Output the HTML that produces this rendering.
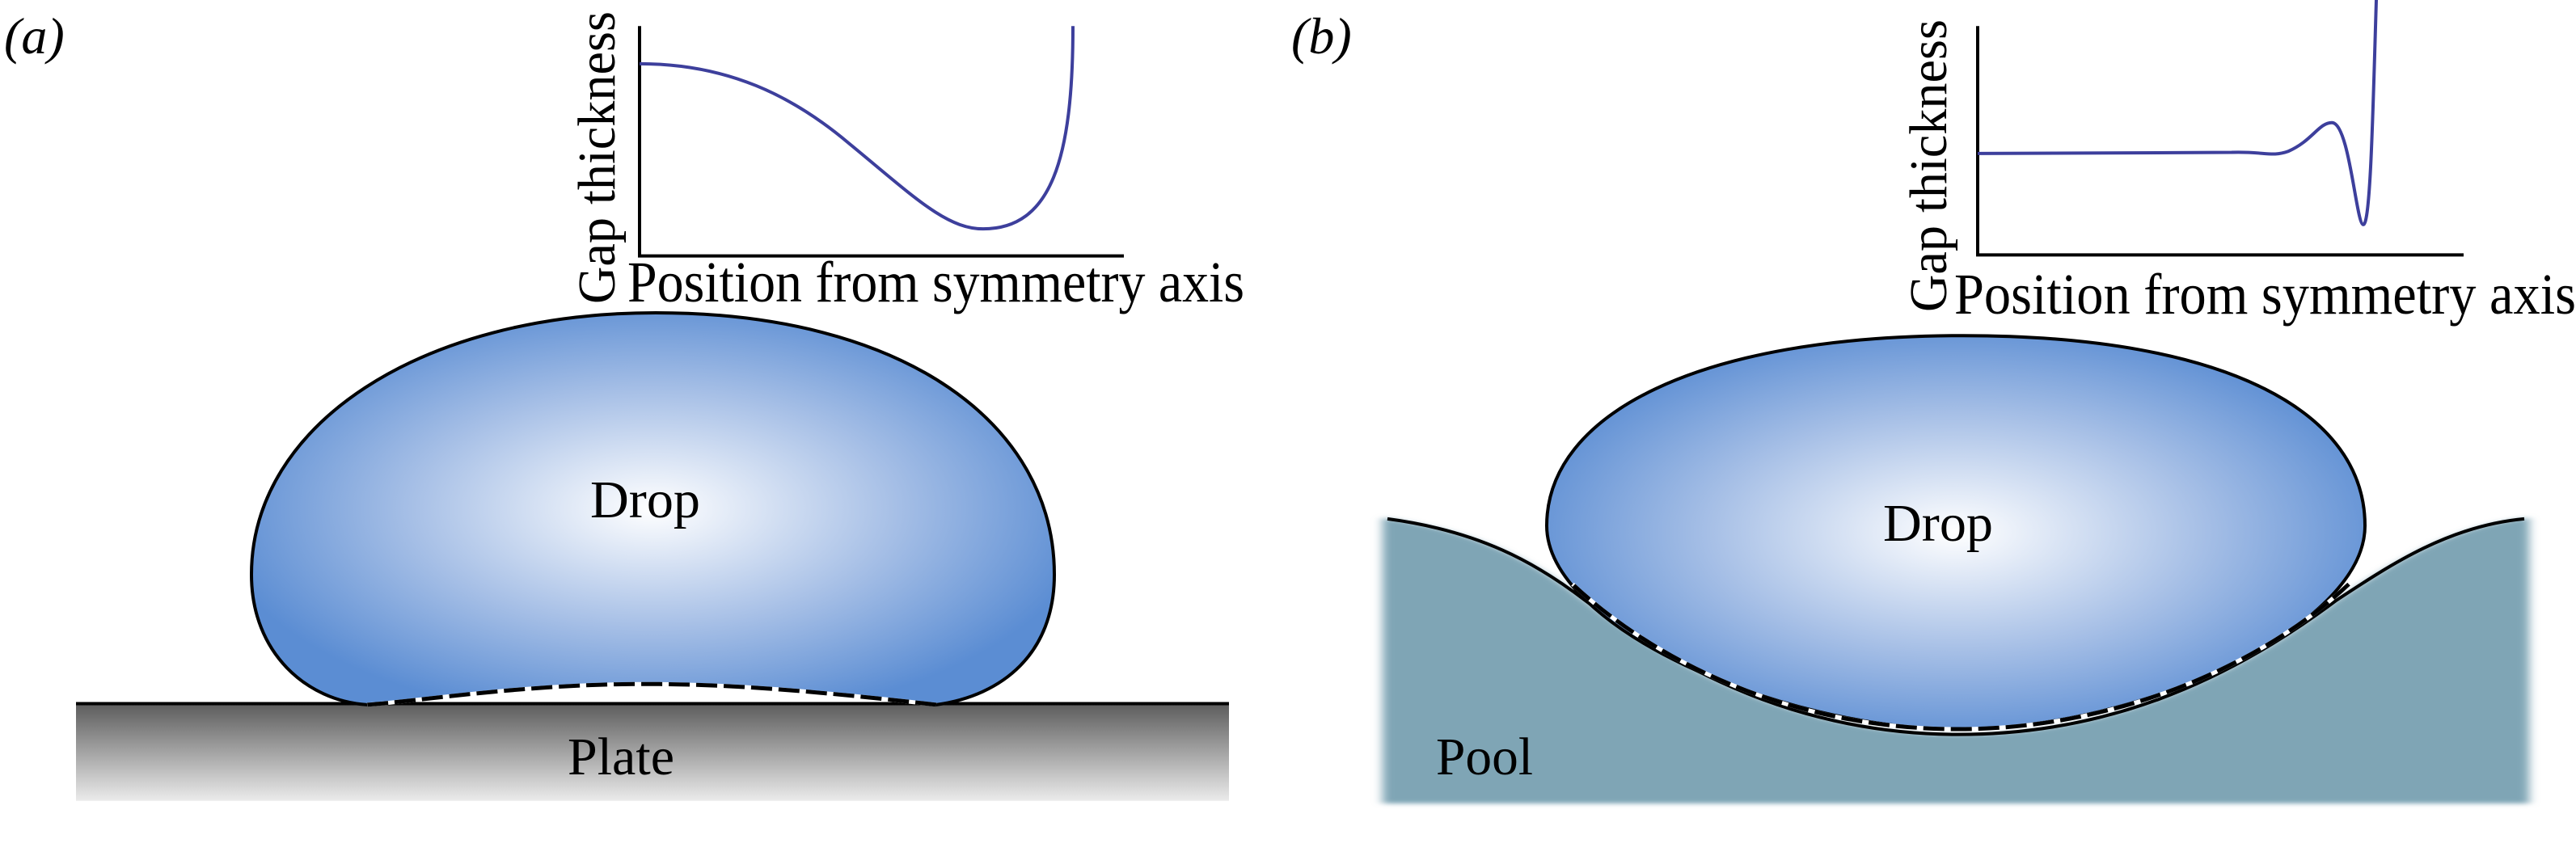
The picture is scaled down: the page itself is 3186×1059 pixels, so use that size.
<!DOCTYPE html>
<html><head><meta charset="utf-8"><style>html,body{margin:0;padding:0;background:#fff;overflow:hidden}svg{display:block}</style></head>
<body>
<svg width="3186" height="1059" viewBox="0 0 3186 1059" xmlns="http://www.w3.org/2000/svg" font-family="'Liberation Serif', serif">
<defs>
<radialGradient id="dg" cx="0.5" cy="0.5" r="0.55">
<stop offset="0" stop-color="#ffffff"/>
<stop offset="0.55" stop-color="#a6bfe6"/>
<stop offset="1" stop-color="#5b8dd3"/>
</radialGradient>
<linearGradient id="pg" x1="0" y1="0" x2="0" y2="1">
<stop offset="0" stop-color="#5c5c5c"/>
<stop offset="1" stop-color="#ebebeb"/>
</linearGradient>
<filter id="bl"><feGaussianBlur stdDeviation="6 4"/></filter>
</defs>

<g transform="scale(1,0.657)">
<line x1="791" y1="49" x2="791" y2="482" stroke="#000" stroke-width="4" vector-effect="non-scaling-stroke"/>
<line x1="789" y1="482" x2="1390" y2="482" stroke="#000" stroke-width="4" vector-effect="non-scaling-stroke"/>
<path d="M 791 120 C 900 120 980 180 1050 270 C 1130 370 1170 431 1216 431 C 1300 431 1327 300 1327 49" fill="none" stroke="#3d3f9c" stroke-width="4" vector-effect="non-scaling-stroke"/>

<rect x="94" y="1325" width="1426" height="183" fill="url(#pg)"/>
<line x1="94" y1="1325" x2="1520" y2="1325" stroke="#000" stroke-width="4" vector-effect="non-scaling-stroke"/>
<path d="M 811 589 C 1120 589 1304 800 1304 1082 C 1304 1230 1240 1310 1158 1327 C 1000 1300 900 1288 796 1288 C 650 1288 520 1320 454 1327 C 380 1320 311 1230 311 1082 C 311 800 520 589 811 589 Z" fill="url(#dg)" stroke="#000" stroke-width="4" vector-effect="non-scaling-stroke"/>
<path d="M 1158 1327 C 1000 1300 900 1288 796 1288 C 650 1288 520 1320 454 1327" fill="none" stroke="#fff" stroke-width="5" vector-effect="non-scaling-stroke"/>
<path d="M 1158 1327 C 1000 1300 900 1288 796 1288 C 650 1288 520 1320 454 1327" fill="none" stroke="#000" stroke-width="5" stroke-dasharray="26 8" vector-effect="non-scaling-stroke"/>

<line x1="2446" y1="49" x2="2446" y2="480" stroke="#000" stroke-width="4" vector-effect="non-scaling-stroke"/>
<line x1="2444" y1="480" x2="3047" y2="480" stroke="#000" stroke-width="4" vector-effect="non-scaling-stroke"/>
<path d="M 2446 289 L 2760 287 C 2800 285 2810 296 2830 285 C 2860 265 2868 231 2884 231 C 2906 231 2914 423 2923 423 C 2932 423 2935 200 2939 0" fill="none" stroke="#3d3f9c" stroke-width="4" vector-effect="non-scaling-stroke"/>

<g filter="url(#bl)">
<path d="M 1710 975 C 1830 1000 1900 1060 1960 1130 C 2100 1290 2250 1383 2422 1383 C 2600 1383 2750 1290 2890 1130 C 2960 1060 3030 990 3128 975 L 3128 1513 L 1710 1513 Z" fill="#7fa5b5"/>
</g>
<path d="M 1716 977 C 1830 1000 1900 1060 1960 1130 C 2100 1290 2250 1383 2422 1383 C 2600 1383 2750 1290 2890 1130 C 2960 1060 3030 990 3122 977" fill="none" stroke="#000" stroke-width="4" vector-effect="non-scaling-stroke"/>
<path d="M 2428 632 C 2760 632 2925 780 2925 990 C 2925 1180 2650 1373 2422 1373 C 2200 1373 1913 1180 1913 990 C 1913 780 2100 632 2428 632 Z" fill="url(#dg)" stroke="#000" stroke-width="4" vector-effect="non-scaling-stroke"/>
<path d="M 2905 1100 C 2800 1250 2620 1373 2422 1373 C 2220 1373 2050 1250 1945 1100" fill="none" stroke="#fff" stroke-width="5" vector-effect="non-scaling-stroke"/>
<path d="M 2905 1100 C 2800 1250 2620 1373 2422 1373 C 2220 1373 2050 1250 1945 1100" fill="none" stroke="#000" stroke-width="5" stroke-dasharray="26 8" vector-effect="non-scaling-stroke"/>
</g>

<text x="5" y="66" font-size="64" font-style="italic">(a)</text>
<text transform="translate(760,376) rotate(-90)" font-size="66" textLength="362" lengthAdjust="spacingAndGlyphs">Gap thickness</text>
<text x="776" y="373" font-size="72" textLength="763" lengthAdjust="spacingAndGlyphs">Position from symmetry axis</text>
<text x="798" y="640" font-size="66" text-anchor="middle" textLength="136" lengthAdjust="spacingAndGlyphs">Drop</text>
<text x="768" y="958" font-size="66" text-anchor="middle" textLength="132" lengthAdjust="spacingAndGlyphs">Plate</text>

<text x="1597" y="66" font-size="64" font-style="italic">(b)</text>
<text transform="translate(2407,386) rotate(-90)" font-size="66" textLength="362" lengthAdjust="spacingAndGlyphs">Gap thickness</text>
<text x="2417" y="388" font-size="72" textLength="769" lengthAdjust="spacingAndGlyphs">Position from symmetry axis</text>
<text x="2397" y="669" font-size="66" text-anchor="middle" textLength="136" lengthAdjust="spacingAndGlyphs">Drop</text>
<text x="1776" y="958" font-size="66" textLength="120" lengthAdjust="spacingAndGlyphs">Pool</text>
</svg>
</body></html>
